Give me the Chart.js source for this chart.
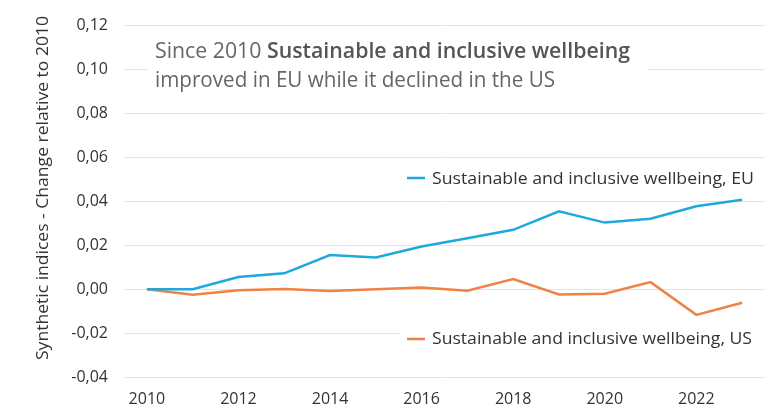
<!DOCTYPE html>
<html lang="en">
<head>
    <meta charset="UTF-8">
    <title>Sustainable and inclusive wellbeing</title>
    <script src="https://cdn.jsdelivr.net/npm/chart.js"></script>
    <style>
        html, body { margin: 0; padding: 0; background: #fff; }
        .chart-box { width: 777px; height: 416px; position: relative; }
    </style>
</head>
<body>

<div class="chart-box">
    <canvas id="wellbeingChart"></canvas>
</div>

<script>
    const years = ['2010', '2011', '2012', '2013', '2014', '2015', '2016', '2017', '2018', '2019', '2020', '2021', '2022', '2023'];
    const euValues = [0, 0.0000, 0.0055, 0.0072, 0.0155, 0.0144, 0.0194, 0.0232, 0.0270, 0.0354, 0.0303, 0.0321, 0.0377, 0.0407];
    const usValues = [0, -0.0026, -0.0005, 0.0001, -0.0008, 0.0000, 0.0008, -0.0007, 0.0046, -0.0024, -0.0021, 0.0032, -0.0117, -0.0062];
    const euLabel = 'Sustainable and inclusive wellbeing, EU';
    const usLabel = 'Sustainable and inclusive wellbeing, US';
    const yTitle = 'Synthetic indices - Change relative to 2010';

    const FONT = '"Open Sans", "Noto Sans", sans-serif';
    const euColor = '#1ea9dd';
    const usColor = '#ef8245';

    // draw text squeezed to a given width (source font is a narrow one)
    function fitText(ctx, text, x, y, width) {
        const w = ctx.measureText(text).width;
        ctx.save();
        ctx.translate(x, y);
        ctx.scale(width / w, 1);
        ctx.fillText(text, 0, 0);
        ctx.restore();
    }

    const annotations = {
        id: 'annotations',
        afterDraw(chart) {
            const ctx = chart.ctx;
            ctx.save();

            // title box
            ctx.fillStyle = '#fff';
            ctx.fillRect(148, 32, 500, 66);
            ctx.textBaseline = 'alphabetic';
            ctx.fillStyle = '#666';
            ctx.font = '21px ' + FONT;
            const part1 = 'Since 2010 ';
            const w1 = ctx.measureText(part1).width;
            ctx.font = '600 21px ' + FONT;
            const part2 = 'Sustainable and inclusive wellbeing';
            const w2 = ctx.measureText(part2).width;
            const sx = 475 / (w1 + w2);
            ctx.save();
            ctx.translate(155, 58);
            ctx.scale(sx, 1);
            ctx.font = '21px ' + FONT;
            ctx.fillText(part1, 0, 0);
            ctx.font = '600 21px ' + FONT;
            ctx.fillStyle = '#555';
            ctx.fillText(part2, w1, 0);
            ctx.restore();
            ctx.fillStyle = '#666';
            ctx.font = '21px ' + FONT;
            fitText(ctx, 'improved in EU while it declined in the US', 155, 87, 400);

            // series labels
            ctx.fillStyle = '#fff';
            ctx.fillRect(400, 322, 365, 30);
            ctx.font = '17px ' + FONT;
            ctx.fillStyle = '#333';
            fitText(ctx, euLabel, 432, 184, 322);
            fitText(ctx, usLabel, 432, 344, 320);
            ctx.lineWidth = 2.5;
            ctx.strokeStyle = euColor;
            ctx.beginPath();
            ctx.moveTo(407, 178);
            ctx.lineTo(425, 178);
            ctx.stroke();
            ctx.strokeStyle = usColor;
            ctx.beginPath();
            ctx.moveTo(407, 339);
            ctx.lineTo(425, 339);
            ctx.stroke();

            // y axis title
            ctx.fillStyle = '#333';
            ctx.font = '17px ' + FONT;
            ctx.translate(48, 188);
            ctx.rotate(-Math.PI / 2);
            fitText(ctx, yTitle, -172, 0, 344);
            ctx.restore();
        }
    };

    const ctx = document.getElementById('wellbeingChart').getContext('2d');
    new Chart(ctx, {
        type: 'line',
        data: {
            labels: years,
            datasets: [
                {
                    label: euLabel,
                    data: euValues,
                    borderColor: euColor,
                    borderWidth: 2.5,
                    pointRadius: 0,
                    tension: 0
                },
                {
                    label: usLabel,
                    data: usValues,
                    borderColor: usColor,
                    borderWidth: 2.5,
                    pointRadius: 0,
                    tension: 0
                }
            ]
        },
        options: {
            responsive: true,
            maintainAspectRatio: false,
            animation: false,
            layout: { padding: { top: 19, right: 12, bottom: 0, left: 0 } },
            plugins: {
                legend: { display: false },
                tooltip: { enabled: false }
            },
            scales: {
                x: {
                    offset: true,
                    grid: { display: false, drawTicks: false },
                    border: { display: false },
                    afterFit(scale) { scale.height = 39; },
                    ticks: {
                        autoSkip: false,
                        maxRotation: 0,
                        padding: 13,
                        color: '#333',
                        font: { family: FONT, size: 16 },
                        callback(value, index) {
                            return index % 2 === 0 ? years[index] : '';
                        }
                    }
                },
                y: {
                    min: -0.04,
                    max: 0.12,
                    grid: { color: '#e5e5e5', lineWidth: 1, drawTicks: false },
                    border: { display: false },
                    afterFit(scale) { scale.width = 124; },
                    ticks: {
                        stepSize: 0.02,
                        padding: 16,
                        color: '#333',
                        font: { family: FONT, size: 16 },
                        callback(value) {
                            return value.toFixed(2).replace('.', ',');
                        }
                    }
                }
            }
        },
        plugins: [annotations]
    });
</script>

</body>
</html>
